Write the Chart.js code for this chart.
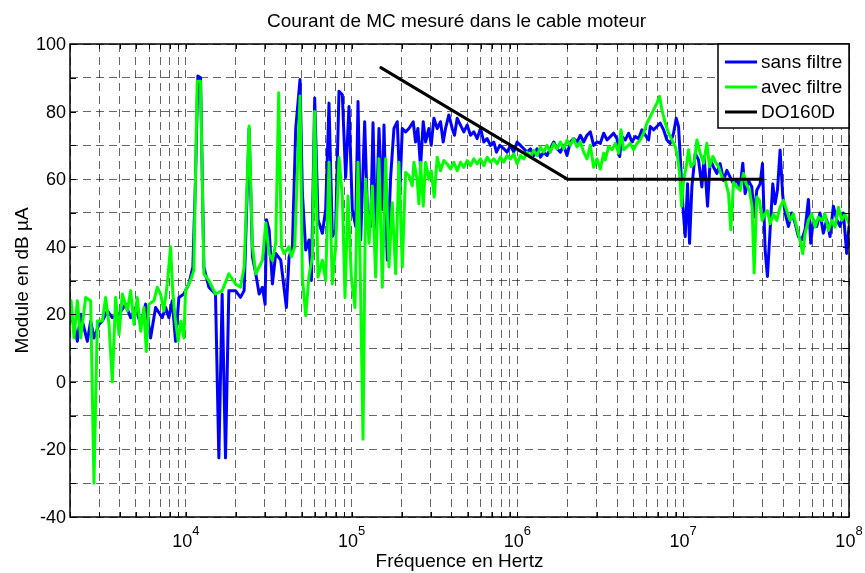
<!DOCTYPE html>
<html>
<head>
<meta charset="utf-8">
<script src="https://cdn.jsdelivr.net/npm/chart.js@4.4.1/dist/chart.umd.min.js"></script>
<style>
  html, body { margin: 0; padding: 0; background: #fff; }
  canvas { display: block; }
</style>
</head>
<body>
<canvas id="courantChart" width="865" height="573"></canvas>
<script>
// Titles and labels
const chartTitle = 'Courant de MC mesuré dans le cable moteur';
const xTitle = 'Fréquence en Hertz';
const yTitle = 'Module en dB µA';
const seriesNames = ['sans filtre', 'avec filtre', 'DO160D'];

// Axis ticks
const xDecades = [1e3, 1e4, 1e5, 1e6, 1e7, 1e8];
const xMultipliers = [1, 2, 3, 4, 5, 6, 7, 8, 9];
const xTickExponents = ['4', '5', '6', '7', '8'];
const yTickLabels = [-40, -20, 0, 20, 40, 60, 80, 100];

// sans filtre : frequency (Hz) and level (dB µA)
const freqSans = [2030, 2115, 2215, 2320, 2430, 2545, 2665, 2790, 2990, 3135, 3360, 3600, 3950, 4330, 4645, 4975, 5335, 5715, 6125, 6565,
  7200, 7545, 7900, 8275, 8665, 9075, 9725, 10420, 11020, 11430, 11810, 12260, 12840, 13760, 15090, 15810, 16550, 17340, 18160, 19920,
  21340, 22460, 24070, 25210, 26410, 27660, 28960, 30060, 30620, 31770, 33270, 34840, 37350, 40400, 41930, 43910, 45990, 48830, 50430, 52820,
  55330, 57150, 59850, 62680, 66560, 69710, 73010, 76450, 80080, 83870, 87840, 92010, 96380, 100900, 105760, 109240, 113340, 119830, 124350, 130240,
  134530, 139570, 146170, 153090, 156680, 164060, 171810, 179930, 188460, 195560, 202050, 211580, 221560, 235200, 242900, 250900, 260300, 270200, 279200, 292300,
  301900, 313300, 328100, 343700, 356600, 368400, 385800, 404000, 417300, 433000, 453500, 475000, 497500, 521000, 545700, 571500, 598500, 626800, 656500, 687700,
  720200, 747400, 782700, 827400, 866400, 907400, 950300, 995400, 1042000, 1092000, 1143000, 1198000, 1254000, 1314000, 1376000, 1441000, 1509000, 1580000, 1655000, 1734000,
  1816000, 1901000, 1991000, 2086000, 2184000, 2288000, 2396000, 2509000, 2628000, 2752000, 2882000, 3019000, 3162000, 3313000, 3469000, 3633000, 3805000, 3985000, 4135000, 4271000,
  4473000, 4685000, 4907000, 5137000, 5381000, 5636000, 5903000, 6182000, 6327000, 6626000, 6940000, 7268000, 7612000, 7972000, 8350000, 8745000, 9075000, 9371000, 9590000, 9954000,
  10280000, 10620000, 10920000, 11280000, 11810000, 12370000, 12950000, 13380000, 14020000, 14540000, 15230000, 15950000, 16700000, 17500000, 18330000, 19190000, 20100000, 21050000, 22050000, 22880000,
  23630000, 24750000, 25930000, 26770000, 27780000, 29100000, 30060000, 31190000, 32210000, 33430000, 34690000, 35830000, 37010000, 38410000, 39850000, 41170000, 43110000, 45150000, 47280000, 49520000,
  51860000, 54310000, 56890000, 58760000, 60970000, 63860000, 66880000, 70040000, 73370000, 76820000, 80480000, 84280000, 88270000, 92450000, 96810000, 100000000];
const sansFiltre = [19, 17, 12, 20, 16, 12, 18, 13, 17, 18, 21, 19, 20, 23, 19, 22, 17, 23, 13, 22,
  19, 22, 19, 24, 12, 25, 26, 29, 34, 60, 90.5, 90, 34, 28, 26, -22.5, 26, -22.5, 27, 27,
  25, 27, 75, 37, 32, 26, 28, 23, 48, 45, 29, 38, 36, 22, 37, 40, 75, 89.5, 56, 39,
  42, 30, 84, 48, 44, 51, 82.5, 43, 45, 86, 85, 60.5, 81.5, 51, 46, 83, 42, 77, 51, 46,
  76.7, 41, 75, 51, 76, 36, 60.5, 75, 77, 57, 75, 74, 75, 77, 71, 75, 63.5, 77, 71, 75,
  70, 78, 75, 77, 71, 75, 79, 75, 73, 78, 76, 74, 76, 73, 74, 72, 75, 71, 72, 70,
  71, 68, 70, 69, 68, 70, 68, 71, 70, 69, 68, 69, 67, 69, 66.5, 68, 67, 69, 71, 69,
  68, 70, 67, 71, 72, 71, 73, 71, 73, 74, 70, 71, 70.6, 73.6, 71.6, 72.6, 73.6, 72, 66.7, 72.6,
  71.6, 73.6, 71, 72.6, 72, 74.6, 73, 71.6, 75.6, 74.6, 75.6, 76.6, 74.6, 71.6, 70.6, 73.6, 78, 75.6, 66.7, 52,
  43, 58.6, 41, 57.7, 67.6, 65.7, 57.7, 66.6, 52, 65.7, 63.6, 61.7, 64.6, 59.6, 62.6, 60.6, 58.6, 59.6, 57.7, 64.7,
  55.7, 59.6, 57.7, 48.8, 56.7, 58.6, 64.6, 39, 31.2, 45, 58.6, 52.7, 56.7, 68.6, 55, 50, 46, 50, 47, 43,
  42, 45, 54, 41, 48, 46, 50, 44, 48, 43, 52, 48, 46, 50, 38, 46];

// avec filtre : frequency (Hz) and level (dB µA)
const freqAvec = [2030, 2115, 2215, 2320, 2487, 2665, 2790, 2923, 3135, 3281, 3437, 3600, 3770, 3950, 4135, 4433, 4645, 4862, 5092, 5335,
  5585, 5769, 5987, 6415, 6720, 7037, 7370, 7720, 8083, 8350, 8665, 8990, 9330, 9725, 9954, 10670, 11170, 11700, 12260, 12840,
  13760, 15090, 16550, 18160, 19920, 21340, 22460, 24070, 25210, 26410, 27660, 28960, 30330, 31770, 33270, 34840, 36310, 37690, 39120, 41930,
  43300, 45350, 48830, 50430, 52820, 55330, 57950, 59850, 62680, 66560, 69710, 73010, 76450, 80080, 83870, 87840, 91160, 95040, 99540, 104700,
  109240, 113340, 117100, 121500, 127270, 133290, 139570, 146170, 153090, 160330, 167890, 175830, 184150, 192860, 202050, 211580, 221560, 232020, 237500, 248700,
  254400, 260300, 270200, 279200, 292300, 301900, 314700, 328100, 343700, 359900, 376900, 394800, 413500, 433000, 453500, 475000, 497500, 521000, 545700, 571500,
  598500, 626800, 656500, 687700, 720200, 754300, 789900, 827400, 866400, 907400, 950300, 995400, 1042000, 1092000, 1143000, 1198000, 1254000, 1314000, 1376000, 1441000,
  1509000, 1580000, 1655000, 1734000, 1816000, 1901000, 1991000, 2086000, 2184000, 2288000, 2396000, 2509000, 2628000, 2752000, 2882000, 3019000, 3162000, 3313000, 3389000, 3550000,
  3718000, 3894000, 4077000, 4212000, 4372000, 4578000, 4795000, 5020000, 5259000, 5508000, 5768000, 6041000, 6327000, 6626000, 6940000, 7201000, 7438000, 7791000, 8159000, 8545000,
  8950000, 9245000, 9504000, 9772000, 10050000, 10430000, 10770000, 11120000, 11650000, 12090000, 12660000, 13260000, 13890000, 14410000, 15090000, 15800000, 16330000, 17100000, 17910000, 18760000,
  19370000, 20100000, 21050000, 22050000, 23090000, 23960000, 25090000, 26040000, 26770000, 27780000, 28830000, 29920000, 31050000, 32210000, 33430000, 35020000, 36670000, 38410000, 40220000, 42120000,
  44120000, 46200000, 48380000, 50700000, 52590000, 54310000, 56890000, 59580000, 62410000, 65350000, 68440000, 71680000, 75070000, 78630000, 82350000, 86250000, 90330000, 94600000, 100000000];
const avecFiltre = [24, 13, 24, 13, 25, 24, -30, 18, 18, 25, 17, 0, 25, 14, 26, 21, 27, 17, 25, 15,
  22, 9, 23, 24, 28, 26, 21, 29, 40, 26, 18, 12, 18, 13, 27, 30, 33, 89, 89, 32,
  30, 26, 27, 32, 29, 28, 34, 75.7, 40, 32, 34, 36, 47, 38, 36, 41, 85.6, 40, 38, 40,
  37, 40, 84.6, 31, 19.6, 31.5, 37, 80, 31, 36, 30, 65, 29, 40, 66.4, 55, 25, 55, 31, 22,
  65, 26, -17, 60, 41, 58, 31, 66, 28, 66, 34, 53, 32, 65, 34, 62, 61, 58, 65, 59.6,
  52.7, 65, 52, 65, 60, 62.5, 54.7, 66.5, 62.5, 65.5, 64.5, 63, 65, 62.5, 65, 63.5, 65.5, 64, 66, 64.5,
  66, 64, 66.5, 65, 66, 64.5, 66.5, 65, 67, 66, 67.5, 64.5, 67, 66, 68, 66.5, 68.5, 67, 69.5, 68,
  70, 68, 70.5, 69, 71, 69, 71.5, 70, 72, 69.5, 71, 68, 66, 70, 63.5, 66, 63, 67.7, 65.7, 69.6,
  68.7, 70.6, 67.7, 74.6, 68.7, 69.6, 70.6, 68.7, 70.6, 71.6, 73.6, 76.6, 78.5, 80.5, 82.5, 84.5, 80.5, 76.6, 73.6, 71.6,
  69.6, 66.7, 61.7, 52, 59.7, 63.7, 68.7, 63.7, 64.7, 71.6, 67.7, 64.7, 70.6, 63.7, 66.7, 64.7, 63.7, 60.7, 59.7, 55.7,
  45, 59, 57.7, 56.7, 61.7, 58.6, 56.7, 51.7, 32.2, 54.7, 53.7, 47.8, 49.7, 50.7, 46.8, 49.7, 47.8, 51.7, 53.7, 50.7,
  47.8, 49.7, 45.8, 41.8, 37.9, 43.8, 47.8, 49.7, 45.8, 48.8, 47.8, 49.7, 44.8, 47.8, 45.8, 51.7, 47.8, 49.7, 46.8];

// DO160D limit
const freqDO = [150000, 2000000, 30000000];
const limiteDO = [93, 60, 60];

const seriesColors = ['#0000ff', '#00ff00', '#000000'];

const FONT = '"Liberation Sans", Arial, Helvetica, sans-serif';

function toPoints(xs, ys) {
  return xs.map((x, i) => ({ x: x, y: ys[i] }));
}

const xGridValues = xDecades
  .flatMap(d => xMultipliers.map(m => m * d))
  .filter(v => v >= 2000 && v <= 1e8);

// Axes frame, ticks, labels and legend drawn MATLAB style
const matlabFrame = {
  id: 'matlabFrame',
  afterDraw(chart) {
    const ctx = chart.ctx;
    const a = chart.chartArea;
    const xs = chart.scales.x;
    const ys = chart.scales.y;
    ctx.save();

    // inward tick marks
    ctx.strokeStyle = '#000';
    ctx.lineWidth = 1;
    ctx.beginPath();
    xGridValues.forEach(v => {
      const px = Math.round(xs.getPixelForValue(v)) + 0.5;
      ctx.moveTo(px, a.bottom); ctx.lineTo(px, a.bottom - 5);
      ctx.moveTo(px, a.top); ctx.lineTo(px, a.top + 5);
    });
    for (let v = -40; v <= 100; v += 10) {
      const py = Math.round(ys.getPixelForValue(v)) + 0.5;
      ctx.moveTo(a.left, py); ctx.lineTo(a.left + 6, py);
      ctx.moveTo(a.right, py); ctx.lineTo(a.right - 6, py);
    }
    ctx.stroke();

    // box
    ctx.lineWidth = 1.5;
    ctx.strokeRect(a.left, a.top, a.right - a.left, a.bottom - a.top);

    ctx.fillStyle = '#000';

    // y tick labels
    ctx.font = '18px ' + FONT;
    ctx.textAlign = 'right';
    ctx.textBaseline = 'middle';
    yTickLabels.forEach(v => {
      ctx.fillText(String(v), a.left - 4, ys.getPixelForValue(v) + 1);
    });

    // x tick labels 10^n
    ctx.textAlign = 'left';
    ctx.textBaseline = 'alphabetic';
    xTickExponents.forEach(e => {
      const px = xs.getPixelForValue(Math.pow(10, Number(e)));
      ctx.font = '18px ' + FONT;
      const w10 = ctx.measureText('10').width;
      ctx.font = '13px ' + FONT;
      const we = ctx.measureText(e).width;
      const x0 = px - (w10 + we) / 2;
      ctx.font = '18px ' + FONT;
      ctx.fillText('10', x0, a.bottom + 30);
      ctx.font = '13px ' + FONT;
      ctx.fillText(e, x0 + w10, a.bottom + 18);
    });

    // titles
    ctx.font = '19px ' + FONT;
    ctx.textAlign = 'center';
    ctx.fillText(chartTitle, (a.left + a.right) / 2 - 3, 27);
    ctx.fillText(xTitle, (a.left + a.right) / 2, 567);
    ctx.save();
    ctx.translate(28, (a.top + a.bottom) / 2);
    ctx.rotate(-Math.PI / 2);
    ctx.fillText(yTitle, 0, 0);
    ctx.restore();

    // legend
    const lx = 718, ly = a.top, lw = a.right - 718, lh = 84;
    ctx.fillStyle = '#fff';
    ctx.fillRect(lx, ly, lw, lh);
    ctx.strokeStyle = '#000';
    ctx.lineWidth = 1.5;
    ctx.strokeRect(lx, ly, lw, lh);
    ctx.font = '19px ' + FONT;
    ctx.textAlign = 'left';
    ctx.textBaseline = 'middle';
    chart.data.datasets.forEach((ds, i) => {
      const yy = ly + 18 + i * 25;
      ctx.strokeStyle = ds.borderColor;
      ctx.lineWidth = 3;
      ctx.beginPath();
      ctx.moveTo(lx + 7, yy);
      ctx.lineTo(lx + 39, yy);
      ctx.stroke();
      ctx.fillStyle = '#000';
      ctx.fillText(ds.label, lx + 43, yy + 1);
    });

    ctx.restore();
  }
};

const ctx = document.getElementById('courantChart').getContext('2d');
new Chart(ctx, {
  type: 'line',
  data: {
    datasets: [
      { label: seriesNames[0], data: toPoints(freqSans, sansFiltre), borderColor: seriesColors[0], order: 3 },
      { label: seriesNames[1], data: toPoints(freqAvec, avecFiltre), borderColor: seriesColors[1], order: 2 },
      { label: seriesNames[2], data: toPoints(freqDO, limiteDO), borderColor: seriesColors[2], order: 1 }
    ]
  },
  options: {
    responsive: false,
    animation: false,
    devicePixelRatio: 1,
    layout: { padding: { left: 70, right: 16, top: 44, bottom: 56 } },
    datasets: {
      line: {
        borderWidth: 3,
        pointRadius: 0,
        tension: 0,
        fill: false,
        borderJoinStyle: 'round',
        borderCapStyle: 'round'
      }
    },
    plugins: {
      legend: { display: false },
      title: { display: false },
      tooltip: { enabled: false }
    },
    scales: {
      x: {
        type: 'logarithmic',
        min: 2000,
        max: 1e8,
        afterBuildTicks: axis => { axis.ticks = xGridValues.map(v => ({ value: v })); },
        ticks: { display: false },
        grid: { color: 'rgba(0,0,0,0.6)', lineWidth: 1, drawTicks: false },
        border: { display: false, dash: [8, 5] }
      },
      y: {
        min: -40,
        max: 100,
        ticks: { display: false, stepSize: 10 },
        grid: { color: 'rgba(0,0,0,0.6)', lineWidth: 1, drawTicks: false },
        border: { display: false, dash: [8, 5] }
      }
    }
  },
  plugins: [matlabFrame]
});
</script>
</body>
</html>
